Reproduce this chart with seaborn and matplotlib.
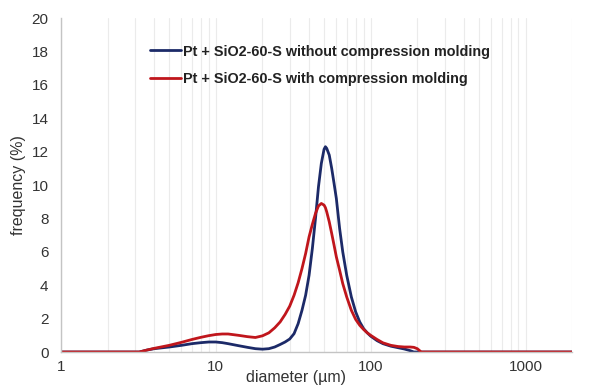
import matplotlib
matplotlib.use("Agg")
import matplotlib.pyplot as plt
import pandas as pd
import seaborn as sns
from matplotlib.ticker import FixedLocator, LogLocator, NullFormatter

# --- Data --------------------------------------------------------------------
diameter = [1, 2, 3.2, 3.6, 4, 5, 6, 7, 8, 9, 10, 11, 12, 14, 16, 18, 20,
            22, 24, 26, 28, 30, 32, 34, 36, 38, 40, 42, 44, 46, 48, 50, 51,
            52, 54, 56, 58, 60, 63, 66, 70, 75, 80, 85, 90, 95, 100, 110,
            120, 135, 150, 165, 180, 190, 200, 212, 230, 500, 1000, 2000]

freq_without = [0, 0, 0, 0.12, 0.2, 0.3, 0.4, 0.5, 0.56, 0.6, 0.6, 0.56,
                0.5, 0.38, 0.28, 0.2, 0.17, 0.2, 0.3, 0.45, 0.6, 0.78, 1.1,
                1.7, 2.5, 3.4, 4.6, 6.2, 8.0, 9.9, 11.3, 12.15, 12.3, 12.2,
                11.8, 11.0, 10.1, 9.2, 7.4, 6.0, 4.6, 3.3, 2.4, 1.8, 1.4,
                1.15, 0.95, 0.68, 0.5, 0.35, 0.26, 0.18, 0.08, 0, 0, 0, 0,
                0, 0, 0]

freq_with = [0, 0, 0, 0.12, 0.22, 0.4, 0.58, 0.75, 0.88, 0.98, 1.05, 1.08,
             1.08, 1.0, 0.92, 0.87, 0.97, 1.15, 1.45, 1.8, 2.25, 2.75, 3.4,
             4.15, 5.0, 5.9, 6.9, 7.65, 8.3, 8.75, 8.9, 8.8, 8.65, 8.4, 7.8,
             7.1, 6.4, 5.7, 4.9, 4.1, 3.3, 2.5, 1.95, 1.6, 1.35, 1.15, 1.0,
             0.75, 0.55, 0.4, 0.33, 0.3, 0.3, 0.28, 0.2, 0, 0, 0, 0, 0]

labels = ["Pt + SiO2-60-S without compression molding",
          "Pt + SiO2-60-S with compression molding"]
colors = ["#1c2a68", "#c0161c"]

df = pd.DataFrame({
    "diameter": diameter * 2,
    "frequency": freq_without + freq_with,
    "sample": [labels[0]] * len(diameter) + [labels[1]] * len(diameter),
})

# --- Plot ---------------------------------------------------------------------
sns.set_style("white")
plt.rcParams["font.family"] = ["Liberation Sans", "DejaVu Sans"]

fig = plt.figure(figsize=(6.01, 3.87), dpi=100)
ax = fig.add_axes([0.1015, 0.0904, 0.8505, 0.8626])

sns.lineplot(data=df, x="diameter", y="frequency", hue="sample",
             palette=dict(zip(labels, colors)), linewidth=2, ax=ax,
             legend=True, sort=False)

ax.set_xscale("log")
ax.set_xlim(1, 2000)
ax.set_ylim(0, 20)
ax.yaxis.set_major_locator(FixedLocator(range(0, 21, 2)))
ax.xaxis.set_major_locator(FixedLocator([1, 10, 100, 1000]))
ax.xaxis.set_minor_locator(LogLocator(base=10, subs=range(2, 10)))
ax.xaxis.set_minor_formatter(NullFormatter())
ax.set_xticklabels(["1", "10", "100", "1000"])

ax.grid(True, which="both", axis="x", color="#ebebeb", linewidth=0.8)
ax.grid(False, axis="y")
ax.set_axisbelow(True)
ax.tick_params(axis="y", length=0, labelsize=11, colors="#333333", pad=9)
ax.tick_params(axis="x", which="both", length=0, labelsize=11,
               colors="#333333", pad=6)

for side in ["top", "right"]:
    ax.spines[side].set_visible(False)
for side in ["left", "bottom"]:
    ax.spines[side].set_color("#c4c4c4")
    ax.spines[side].set_linewidth(1)

ax.set_xlabel("diameter (µm)", fontsize=11.5, color="#333333", labelpad=-3)
ax.xaxis.set_label_coords(0.46, -0.055)
ax.set_ylabel("frequency (%)", fontsize=11.5, color="#333333", labelpad=4)

leg = ax.legend(loc="upper left", bbox_to_anchor=(0.148, 0.96),
                frameon=False, handlelength=2.2, handletextpad=0.1,
                labelspacing=0.95, prop={"weight": "bold", "size": 10.4})
for t in leg.get_texts():
    t.set_color("#222222")

fig.savefig("out.png", dpi=100)
